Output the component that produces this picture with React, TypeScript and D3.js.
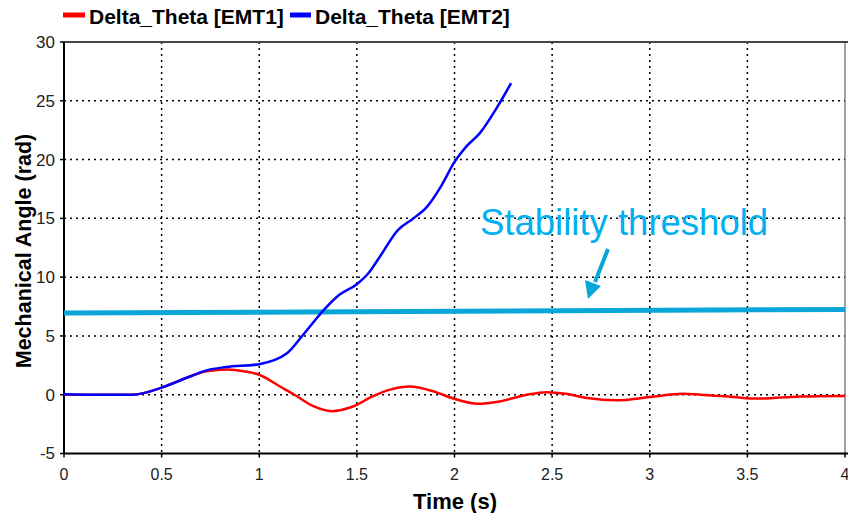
import React from 'react';
import * as d3 from 'd3';

const xTicks = [0, 0.5, 1, 1.5, 2, 2.5, 3, 3.5, 4];
const yTicks = [-5, 0, 5, 10, 15, 20, 25, 30];

// EMT1 (red) - damped oscillation
const emt1Time = [0, 0.2, 0.35, 0.5, 0.645, 0.73, 0.84, 0.92, 1.0, 1.106, 1.18, 1.28, 1.37, 1.48, 1.58, 1.67, 1.77, 1.89, 1.99, 2.12, 2.23, 2.37, 2.47, 2.57, 2.68, 2.83, 3.0, 3.17, 3.26, 3.43, 3.55, 3.77, 4.0];
const emt1Value = [0, 0, 0, 0.6, 1.55, 2.0, 2.15, 2.0, 1.7, 0.7, 0, -1.0, -1.4, -1.0, -0.15, 0.43, 0.7, 0.3, -0.3, -0.77, -0.57, 0, 0.22, 0.08, -0.28, -0.48, -0.2, 0.08, 0, -0.2, -0.33, -0.15, -0.1];

// EMT2 (blue) - loses synchronism
const emt2Time = [0, 0.2, 0.35, 0.5, 0.645, 0.73, 0.83, 1.0, 1.14, 1.22, 1.33, 1.41, 1.5, 1.56, 1.62, 1.71, 1.79, 1.86, 1.93, 2.0, 2.06, 2.13, 2.22, 2.29];
const emt2Value = [0.05, 0, 0, 0.6, 1.55, 2.07, 2.35, 2.6, 3.5, 5.0, 7.2, 8.5, 9.4, 10.35, 11.8, 14.0, 15.0, 16.0, 17.7, 19.8, 21.1, 22.25, 24.5, 26.5];

const thresholdTime = [0, 4];
const thresholdValue = [6.95, 7.25];

const W = 848;
const H = 513;
const left = 64;
const right = 845;
const top = 42;
const bottom = 453.5;

export default function App() {
  const x = d3.scaleLinear().domain([0, 4]).range([left, right]);
  const y = d3.scaleLinear().domain([-5, 30]).range([bottom, top]);

  const line = d3.line<[number, number]>()
    .x(d => x(d[0]))
    .y(d => y(d[1]))
    .curve(d3.curveMonotoneX);

  const red = emt1Time.map((t, i) => [t, emt1Value[i]] as [number, number]);
  const blue = emt2Time.map((t, i) => [t, emt2Value[i]] as [number, number]);
  const thr = thresholdTime.map((t, i) => [t, thresholdValue[i]] as [number, number]);

  const grid = { stroke: '#000', strokeWidth: 1.5, strokeDasharray: '2,4' };
  const narrow = "'Liberation Sans Narrow', 'Arial Narrow', Arial, sans-serif";

  return (
    <svg width={W} height={H} style={{ position: 'absolute', left: 0, top: 0, background: '#fff' }}
      fontFamily="Arial, 'Liberation Sans', sans-serif">
      {/* legend */}
      <line x1={63} x2={85} y1={15} y2={15} stroke="#ff0000" strokeWidth={5} />
      <text x={89} y={24} fontSize={21} fontWeight="bold">Delta_Theta [EMT1]</text>
      <line x1={290} x2={311} y1={15} y2={15} stroke="#0000ff" strokeWidth={5} />
      <text x={315} y={24} fontSize={21} fontWeight="bold">Delta_Theta [EMT2]</text>

      {/* grid */}
      {yTicks.filter(v => v > -5 && v < 30).map(v => (
        <line key={'gy' + v} x1={left} x2={right} y1={y(v)} y2={y(v)} {...grid} />
      ))}
      {xTicks.filter(v => v > 0 && v < 4).map(v => (
        <line key={'gx' + v} x1={x(v)} x2={x(v)} y1={top} y2={bottom} {...grid} />
      ))}

      {/* frame */}
      <line x1={left} x2={W} y1={top} y2={top} stroke="#444" strokeWidth={2} />
      <line x1={right} x2={right} y1={top} y2={bottom} stroke="#444" strokeWidth={1} />
      <line x1={left} x2={left} y1={top} y2={bottom} stroke="#000" strokeWidth={2} />
      <line x1={left} x2={W} y1={bottom} y2={bottom} stroke="#000" strokeWidth={2} />

      {/* y ticks */}
      {yTicks.map(v => (
        <g key={'ty' + v}>
          <line x1={left - 4} x2={left} y1={y(v)} y2={y(v)} stroke="#000" strokeWidth={1.5} />
          <text x={55} y={y(v)} dy="0.35em" textAnchor="end" fontSize={17} fill="#222">{v}</text>
        </g>
      ))}
      {/* x ticks */}
      {xTicks.map(v => (
        <g key={'tx' + v}>
          <line x1={x(v)} x2={x(v)} y1={bottom} y2={bottom + 4} stroke="#000" strokeWidth={1.5} />
          <text x={x(v)} y={480} textAnchor="middle" fontSize={16} fill="#222" fontFamily={narrow}>{v}</text>
        </g>
      ))}

      {/* axis titles */}
      <text x={455} y={509} textAnchor="middle" fontSize={22} fontWeight="bold" fontFamily={narrow}>Time (s)</text>
      <text transform="translate(31,251) rotate(-90)" textAnchor="middle" fontSize={21.5} fontWeight="bold">
        Mechanical Angle (rad)
      </text>

      {/* threshold */}
      <path d={line(thr) || ''} fill="none" stroke="#0aa6d8" strokeWidth={5} />

      {/* series */}
      <path d={line(red) || ''} fill="none" stroke="#ff0000" strokeWidth={2.5} />
      <path d={line(blue) || ''} fill="none" stroke="#0000ff" strokeWidth={2.5} />

      {/* annotation */}
      <text x={480} y={235} fontSize={36.5} fill="#00b0f0">Stability threshold</text>
      <line x1={608} x2={595} y1={249} y2={282} stroke="#0aa6d8" strokeWidth={4} />
      <path d="M 588 299 L 585 280 L 601 286 Z" fill="#0aa6d8" />
    </svg>
  );
}
